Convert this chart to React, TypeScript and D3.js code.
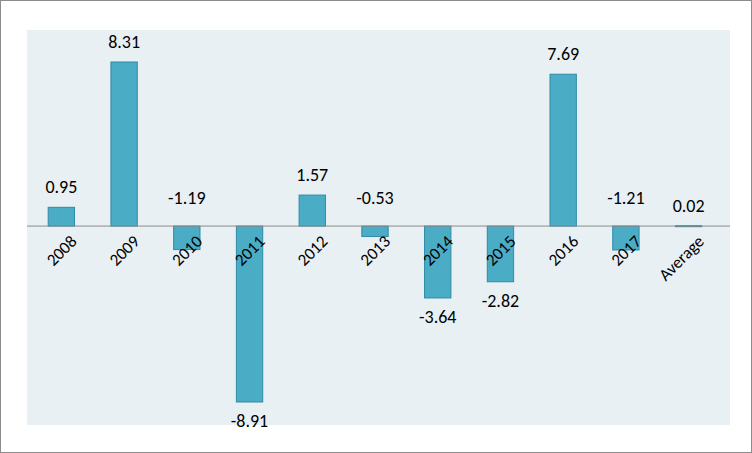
import React from 'react';
import * as d3 from 'd3';

const categories = ['2008', '2009', '2010', '2011', '2012', '2013', '2014', '2015', '2016', '2017', 'Average'];
const values = [0.95, 8.31, -1.19, -8.91, 1.57, -0.53, -3.64, -2.82, 7.69, -1.21, 0.02];

const W = 752;
const H = 453;
const plot = { left: 27, right: 730, top: 30, bottom: 425 };

export default function App() {
  const x = d3.scaleBand().domain(categories).range([plot.left + 3, plot.right - 10]).paddingInner(0.58).paddingOuter(0.29);
  const y = d3.scaleLinear().domain([-8.91, 8.31]).range([402, 62]);
  const y0 = y(0);
  const font = 'Carlito, Lato, "Liberation Sans", sans-serif';

  return (
    <div style={{ position: 'absolute', left: 0, top: 0 }}>
      <svg width={W} height={H} style={{ display: 'block' }}>
        <rect x={0.5} y={0.5} width={W - 1} height={H - 1} fill="#fff" stroke="#8c8c8c" />
        <rect x={plot.left} y={plot.top} width={plot.right - plot.left} height={plot.bottom - plot.top} fill="#e9f0f3" />
        {categories.map((c, i) => {
          const v = values[i];
          const bx = x(c)!;
          const top = Math.min(y(v), y0);
          const h = Math.abs(y(v) - y0);
          const cx = bx + x.bandwidth() / 2;
          const labelY = v >= 0 ? top - 14 : v > -2 ? y0 - 22 : top + h + 25;
          return (
            <g key={c}>
              <rect x={bx} y={top} width={x.bandwidth()} height={Math.max(h, 1)} fill="#4bacc6" stroke="#2f8aa6" strokeWidth={1} />
              <text x={cx} y={labelY} textAnchor="middle" fontFamily={font} fontSize={18} fill="#000">
                {v.toFixed(2)}
              </text>
            </g>
          );
        })}
        <line x1={plot.left} x2={plot.right} y1={y0} y2={y0} stroke="#8c8c8c" strokeWidth={1} />
        {categories.map((c) => {
          const cx = x(c)! + x.bandwidth() / 2 + 8;
          return (
            <text key={c} transform={`translate(${cx},${y0 + 8}) rotate(-45)`} textAnchor="end" dy="0.7em" fontFamily={font} fontSize={17} fill="#000">
              {c}
            </text>
          );
        })}
      </svg>
    </div>
  );
}
